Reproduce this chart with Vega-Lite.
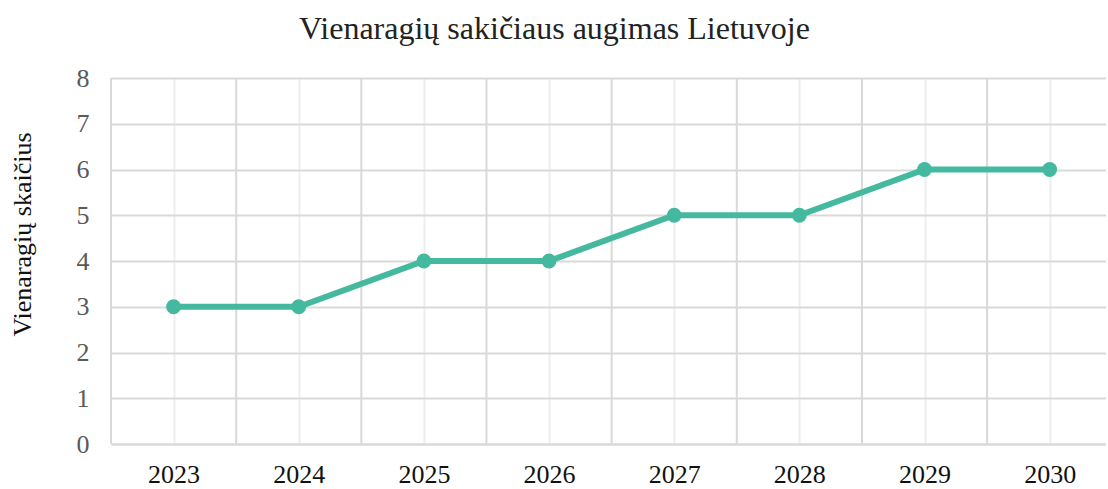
{
  "$schema": "https://vega.github.io/schema/vega-lite/v6.json",
  "autosize": "none",
  "padding": {"left": 111, "top": 78, "right": 0, "bottom": 45},
  "width": 995,
  "height": 366,
  "background": "white",
  "config": {
    "font": "Liberation Serif",
    "view": {"stroke": null},
    "axis": {"labelFont": "Liberation Serif", "titleFont": "Liberation Serif"}
  },
  "title": {
    "text": "Vienaragių sakičiaus augimas Lietuvoje",
    "font": "Liberation Serif",
    "fontSize": 32,
    "fontWeight": "normal",
    "color": "#222222",
    "anchor": "middle",
    "dx": -54,
    "offset": 19
  },
  "data": {
    "values": [
      {"year": 2023, "count": 3},
      {"year": 2024, "count": 3},
      {"year": 2025, "count": 4},
      {"year": 2026, "count": 4},
      {"year": 2027, "count": 5},
      {"year": 2028, "count": 5},
      {"year": 2029, "count": 6},
      {"year": 2030, "count": 6}
    ]
  },
  "layer": [
    {
      "mark": {"type": "rule", "color": "#d9d9d9", "strokeWidth": 2},
      "data": {"values": [{"b": 2022.5}, {"b": 2023.5}, {"b": 2024.5}, {"b": 2025.5}, {"b": 2026.5}, {"b": 2027.5}, {"b": 2028.5}, {"b": 2029.5}]},
      "encoding": {
        "x": {"field": "b", "type": "quantitative", "scale": {"domain": [2022.5, 2030.45], "nice": false, "zero": false}}
      }
    },
    {
      "mark": {"type": "line", "color": "#45b9a0", "strokeWidth": 6},
      "encoding": {
        "x": {
          "field": "year",
          "type": "quantitative",
          "scale": {"domain": [2022.5, 2030.45], "nice": false, "zero": false},
          "axis": {
            "title": null,
            "values": [2023, 2024, 2025, 2026, 2027, 2028, 2029, 2030],
            "format": "d",
            "labelFont": "Liberation Serif",
            "labelFontSize": 26,
            "labelColor": "#111111",
            "labelPadding": 17,
            "ticks": false,
            "domain": true,
            "domainColor": "#d9d9d9",
            "domainWidth": 2,
            "grid": true,
            "gridColor": "#eeeeee",
            "gridWidth": 2
          }
        },
        "y": {
          "field": "count",
          "type": "quantitative",
          "scale": {"domain": [0, 8], "nice": false},
          "axis": {
            "title": "Vienaragių skaičius",
            "titleFont": "Liberation Serif",
            "titleFontSize": 26,
            "titleFontWeight": "normal",
            "titleColor": "#111111",
            "titleAngle": -90,
            "titleX": -89,
            "titleY": 156,
            "titleAlign": "center",
            "titleBaseline": "middle",
            "values": [0, 1, 2, 3, 4, 5, 6, 7, 8],
            "labelFont": "Liberation Serif",
            "labelFontSize": 26,
            "labelColor": "#595959",
            "labelPadding": 22,
            "ticks": false,
            "domain": false,
            "grid": true,
            "gridColor": "#d9d9d9",
            "gridWidth": 2
          }
        }
      }
    },
    {
      "mark": {"type": "point", "filled": true, "color": "#45b9a0", "size": 220, "opacity": 1},
      "encoding": {
        "x": {"field": "year", "type": "quantitative"},
        "y": {"field": "count", "type": "quantitative"}
      }
    }
  ]
}
